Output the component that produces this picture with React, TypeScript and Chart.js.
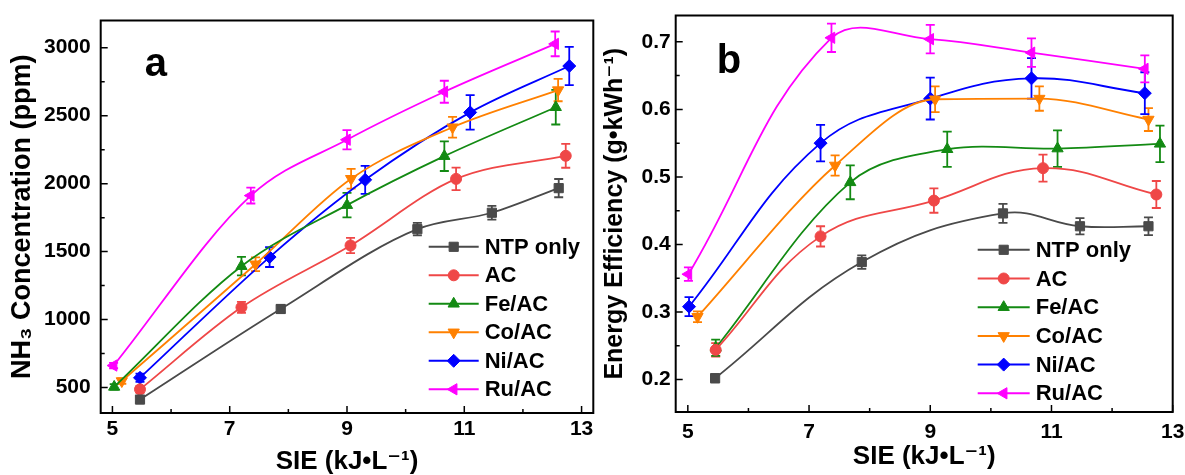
import React, { useEffect, useRef } from 'react';
import { Chart, registerables } from 'chart.js';
import { drawPoint } from 'chart.js/helpers';

Chart.register(...registerables);

// ---------------- data ----------------
const SERIES_NAMES = ['NTP only', 'AC', 'Fe/AC', 'Co/AC', 'Ni/AC', 'Ru/AC'];
const SERIES_COLORS = ['#4a4a4a', '#ef4747', '#138a13', '#ff8000', '#0000ff', '#ff00ff'];

const X_TICKS = [5, 7, 9, 11, 13];
const X_TICK_LABELS = ['5', '7', '9', '11', '13'];
const X_MINOR = [6, 8, 10, 12];

// Panel a: NH3 concentration (ppm)
const A_Y_TICKS = [500, 1000, 1500, 2000, 2500, 3000];
const A_Y_TICK_LABELS = ['500', '1000', '1500', '2000', '2500', '3000'];
const A_Y_MINOR = [750, 1250, 1750, 2250, 2750];

const a_ntp_x = [5.47, 7.87, 10.2, 11.47, 12.61];
const a_ntp_y = [412, 1078, 1665, 1786, 1967];
const a_ntp_err = [20, 30, 46, 51, 67];

const a_ac_x = [5.47, 7.2, 9.06, 10.86, 12.73];
const a_ac_y = [487, 1090, 1545, 2035, 2205];
const a_ac_err = [25, 40, 56, 83, 88];

const a_fe_x = [5.03, 7.2, 9.0, 10.66, 12.56];
const a_fe_y = [505, 1393, 1842, 2202, 2562];
const a_fe_err = [20, 68, 90, 109, 127];

const a_co_x = [5.16, 7.44, 9.07, 10.8, 12.6];
const a_co_y = [548, 1407, 2036, 2415, 2688];
const a_co_err = [20, 50, 72, 76, 82];

const a_ni_x = [5.47, 7.68, 9.31, 11.1, 12.79];
const a_ni_y = [572, 1460, 2028, 2524, 2865];
const a_ni_err = [30, 73, 103, 127, 141];

const a_ru_x = [5.02, 7.36, 9.0, 10.66, 12.55];
const a_ru_y = [662, 1912, 2323, 2676, 3028];
const a_ru_err = [20, 58, 71, 81, 91];

// Panel b: energy efficiency (g/kWh)
const B_Y_TICKS = [0.2, 0.3, 0.4, 0.5, 0.6, 0.7];
const B_Y_TICK_LABELS = ['0.2', '0.3', '0.4', '0.5', '0.6', '0.7'];
const B_Y_MINOR = [0.25, 0.35, 0.45, 0.55, 0.65];

const b_ntp_x = [5.45, 7.87, 10.2, 11.47, 12.6];
const b_ntp_y = [0.202, 0.374, 0.446, 0.427, 0.427];
const b_ntp_err = [0.006, 0.01, 0.014, 0.012, 0.013];

const b_ac_x = [5.46, 7.19, 9.06, 10.86, 12.73];
const b_ac_y = [0.244, 0.412, 0.465, 0.513, 0.474];
const b_ac_err = [0.01, 0.015, 0.018, 0.02, 0.02];

const b_fe_x = [5.46, 7.68, 9.28, 11.1, 12.79];
const b_fe_y = [0.247, 0.492, 0.541, 0.542, 0.549];
const b_fe_err = [0.012, 0.025, 0.026, 0.027, 0.027];

const b_co_x = [5.16, 7.43, 9.08, 10.8, 12.6];
const b_co_y = [0.293, 0.517, 0.615, 0.616, 0.585];
const b_co_err = [0.008, 0.015, 0.019, 0.018, 0.017];

const b_ni_x = [5.02, 7.19, 9.0, 10.67, 12.54];
const b_ni_y = [0.308, 0.55, 0.616, 0.646, 0.624];
const b_ni_err = [0.014, 0.027, 0.031, 0.03, 0.031];

const b_ru_x = [5.01, 7.37, 9.0, 10.67, 12.54];
const b_ru_y = [0.356, 0.706, 0.704, 0.684, 0.66];
const b_ru_err = [0.01, 0.021, 0.021, 0.021, 0.02];

// ---------------- styles ----------------
const FONT = '"Liberation Sans", Arial, "DejaVu Sans", sans-serif';
const MARKERS = [
  { style: 'rect', rot: 0, r: 6.5 },
  { style: 'circle', rot: 0, r: 5.5 },
  { style: 'triangle', rot: 0, r: 6.5 },
  { style: 'triangle', rot: 180, r: 6.5 },
  { style: 'rectRot', rot: 0, r: 6.5 },
  { style: 'triangle', rot: -90, r: 6.5 },
];

type Series = { x: number[]; y: number[]; err: number[]; mode: string; tension: number };

const A_SERIES: Series[] = [
  { x: a_ntp_x, y: a_ntp_y, err: a_ntp_err, mode: 'monotone', tension: 0.4 },
  { x: a_ac_x, y: a_ac_y, err: a_ac_err, mode: 'monotone', tension: 0.4 },
  { x: a_fe_x, y: a_fe_y, err: a_fe_err, mode: 'monotone', tension: 0.4 },
  { x: a_co_x, y: a_co_y, err: a_co_err, mode: 'monotone', tension: 0.4 },
  { x: a_ni_x, y: a_ni_y, err: a_ni_err, mode: 'monotone', tension: 0.4 },
  { x: a_ru_x, y: a_ru_y, err: a_ru_err, mode: 'monotone', tension: 0.4 },
];
const B_SERIES: Series[] = [
  { x: b_ntp_x, y: b_ntp_y, err: b_ntp_err, mode: 'default', tension: 0.4 },
  { x: b_ac_x, y: b_ac_y, err: b_ac_err, mode: 'default', tension: 0.4 },
  { x: b_fe_x, y: b_fe_y, err: b_fe_err, mode: 'default', tension: 0.35 },
  { x: b_co_x, y: b_co_y, err: b_co_err, mode: 'monotone', tension: 0.4 },
  { x: b_ni_x, y: b_ni_y, err: b_ni_err, mode: 'default', tension: 0.4 },
  { x: b_ru_x, y: b_ru_y, err: b_ru_err, mode: 'default', tension: 0.4 },
];

const PANEL_A = {
  letter: 'a',
  canvasLeft: 0,
  canvasW: 640,
  areaLeft: 100.7,
  areaRight: 593.3,
  areaTop: 15,
  areaBottom: 413,
  xMin: 4.8,
  xMax: 13.2,
  yMin: 313,
  yMax: 3200,
  yTicks: A_Y_TICKS,
  yLabels: A_Y_TICK_LABELS,
  yMinor: A_Y_MINOR,
  series: A_SERIES,
  yTitle: 'NH\u2083 Concentration (ppm)',
  yTitleSize: 27,
  yTitlePad: 9,
  xTitlePad: 0,
  yTickPad: 10,
  xTickPad: 6,
  legendLeft: 328,
  legendBottom: 23.7,
  legendGap: 28.5,
  legendLine: 50,
  letterDx: 44,
  letterDy: 55,
};

const PANEL_B = {
  letter: 'b',
  canvasLeft: 590,
  canvasW: 620,
  areaLeft: 675.7,
  areaRight: 1172.7,
  areaTop: 12.7,
  areaBottom: 412,
  xMin: 4.8,
  xMax: 13.0,
  yMin: 0.152,
  yMax: 0.739,
  yTicks: B_Y_TICKS,
  yLabels: B_Y_TICK_LABELS,
  yMinor: B_Y_MINOR,
  series: B_SERIES,
  yTitle: 'Energy Efficiency (g\u2022kWh\u207B\u00B9)',
  yTitleSize: 25,
  yTitlePad: 13,
  xTitlePad: 5,
  yTickPad: 5,
  xTickPad: 10,
  legendLeft: 302,
  legendBottom: 18.7,
  legendGap: 28.7,
  legendLine: 52,
  letterDx: 41,
  letterDy: 57,
};

type Panel = typeof PANEL_A;

function makePlugin(p: Panel) {
  return {
    id: 'decor_' + p.letter,
    beforeDatasetsDraw(chart: any) {
      const ctx = chart.ctx;
      const xs = chart.scales.x;
      const ys = chart.scales.y;
      ctx.save();
      p.series.forEach((s, si) => {
        ctx.strokeStyle = SERIES_COLORS[si];
        ctx.lineWidth = 1.8;
        s.x.forEach((xv, i) => {
          const px = xs.getPixelForValue(xv);
          const top = ys.getPixelForValue(s.y[i] + s.err[i]);
          const bot = ys.getPixelForValue(s.y[i] - s.err[i]);
          ctx.beginPath();
          ctx.moveTo(px, top);
          ctx.lineTo(px, bot);
          ctx.moveTo(px - 4.5, top);
          ctx.lineTo(px + 4.5, top);
          ctx.moveTo(px - 4.5, bot);
          ctx.lineTo(px + 4.5, bot);
          ctx.stroke();
        });
      });
      ctx.restore();
    },
    afterDraw(chart: any) {
      const ctx = chart.ctx;
      const ca = chart.chartArea;
      const xs = chart.scales.x;
      const ys = chart.scales.y;
      ctx.save();
      // ticks (inward)
      ctx.strokeStyle = '#000';
      ctx.lineWidth = 1.5;
      ctx.beginPath();
      X_TICKS.forEach((v) => {
        const px = xs.getPixelForValue(v);
        if (px < ca.left || px > ca.right) return;
        ctx.moveTo(px, ca.bottom);
        ctx.lineTo(px, ca.bottom - 7);
      });
      X_MINOR.forEach((v) => {
        const px = xs.getPixelForValue(v);
        ctx.moveTo(px, ca.bottom);
        ctx.lineTo(px, ca.bottom - 4);
      });
      p.yTicks.forEach((v) => {
        const py = ys.getPixelForValue(v);
        ctx.moveTo(ca.left, py);
        ctx.lineTo(ca.left + 7, py);
      });
      p.yMinor.forEach((v) => {
        const py = ys.getPixelForValue(v);
        ctx.moveTo(ca.left, py);
        ctx.lineTo(ca.left + 4, py);
      });
      ctx.stroke();
      // frame
      ctx.lineWidth = 2;
      ctx.strokeRect(ca.left, ca.top, ca.right - ca.left, ca.bottom - ca.top);
      // panel letter
      ctx.fillStyle = '#000';
      ctx.font = 'bold 40px ' + FONT;
      ctx.textBaseline = 'alphabetic';
      ctx.textAlign = 'left';
      ctx.fillText(p.letter, ca.left + p.letterDx, ca.top + p.letterDy);
      // legend
      const n = SERIES_NAMES.length;
      SERIES_NAMES.forEach((name, i) => {
        const y = ca.bottom - p.legendBottom - (n - 1 - i) * p.legendGap;
        const x0 = ca.left + p.legendLeft;
        ctx.strokeStyle = SERIES_COLORS[i];
        ctx.fillStyle = SERIES_COLORS[i];
        ctx.lineWidth = 2;
        ctx.beginPath();
        ctx.moveTo(x0, y);
        ctx.lineTo(x0 + p.legendLine, y);
        ctx.stroke();
        ctx.lineWidth = 1;
        drawPoint(ctx, { pointStyle: MARKERS[i].style, rotation: MARKERS[i].rot, radius: MARKERS[i].r, borderWidth: 1 } as any, x0 + p.legendLine / 2, y);
        ctx.fillStyle = '#000';
        ctx.font = 'bold 22px ' + FONT;
        ctx.textBaseline = 'middle';
        ctx.fillText(name, x0 + p.legendLine + 6, y + 1);
      });
      ctx.restore();
    },
  };
}

function PanelChart({ p }: { p: Panel }) {
  const ref = useRef<HTMLCanvasElement | null>(null);
  useEffect(() => {
    if (!ref.current) return;
    const datasets = p.series.map((s, i) => ({
      label: SERIES_NAMES[i],
      data: s.x.map((xv, j) => ({ x: xv, y: s.y[j] })),
      borderColor: SERIES_COLORS[i],
      backgroundColor: SERIES_COLORS[i],
      pointBackgroundColor: SERIES_COLORS[i],
      pointBorderColor: SERIES_COLORS[i],
      pointStyle: MARKERS[i].style,
      pointRotation: MARKERS[i].rot,
      pointRadius: MARKERS[i].r,
      pointBorderWidth: 1,
      borderWidth: 1.8,
      tension: s.tension,
      cubicInterpolationMode: s.mode,
      fill: false,
    }));
    const chart = new Chart(ref.current, {
      type: 'line',
      data: { datasets },
      plugins: [makePlugin(p)],
      options: {
        animation: false,
        responsive: false,
        devicePixelRatio: 1,
        events: [],
        layout: {
          padding: {
            left: 0,
            top: p.areaTop,
            right: p.canvasW - (p.areaRight - p.canvasLeft),
            bottom: 0,
          },
        },
        plugins: { legend: { display: false }, tooltip: { enabled: false }, title: { display: false } },
        scales: {
          x: {
            type: 'linear',
            min: p.xMin,
            max: p.xMax,
            afterBuildTicks: (scale: any) => {
              scale.ticks = X_TICKS.map((v) => ({ value: v }));
            },
            afterFit: (scale: any) => {
              scale.height = 475 - p.areaBottom;
            },
            grid: { display: false, drawTicks: false },
            border: { display: false },
            ticks: {
              color: '#000',
              padding: p.xTickPad,
              maxRotation: 0,
              autoSkip: false,
              font: { family: FONT, size: 21, weight: 'bold', lineHeight: 1 },
              callback: (v: any) => {
                const k = X_TICKS.indexOf(Number(v));
                return k >= 0 ? X_TICK_LABELS[k] : '';
              },
            },
            title: {
              display: true,
              text: 'SIE (kJ\u2022L\u207B\u00B9)',
              color: '#000',
              font: { family: FONT, size: 26, weight: 'bold', lineHeight: 1 },
              padding: { top: 0, bottom: p.xTitlePad },
            },
          },
          y: {
            type: 'linear',
            min: p.yMin,
            max: p.yMax,
            afterBuildTicks: (scale: any) => {
              scale.ticks = p.yTicks.map((v) => ({ value: v }));
            },
            afterFit: (scale: any) => {
              scale.width = p.areaLeft - p.canvasLeft;
            },
            grid: { display: false, drawTicks: false },
            border: { display: false },
            ticks: {
              color: '#000',
              padding: p.yTickPad,
              autoSkip: false,
              font: { family: FONT, size: 21, weight: 'bold', lineHeight: 1 },
              callback: (v: any) => {
                const k = p.yTicks.findIndex((t) => Math.abs(t - Number(v)) < 1e-9);
                return k >= 0 ? p.yLabels[k] : '';
              },
            },
            title: {
              display: true,
              text: p.yTitle,
              color: '#000',
              font: { family: FONT, size: p.yTitleSize, weight: 'bold', lineHeight: 1 },
              padding: { top: p.yTitlePad, bottom: 0 },
            },
          },
        },
      } as any,
    });
    return () => chart.destroy();
  }, [p]);
  return (
    <canvas
      ref={ref}
      width={p.canvasW}
      height={475}
      style={{ position: 'absolute', left: p.canvasLeft, top: 0, width: p.canvasW, height: 475 }}
    />
  );
}

export default function App() {
  return (
    <div
      style={{
        position: 'absolute',
        left: 0,
        top: 0,
        width: 1185,
        height: 475,
        overflow: 'hidden',
        background: '#fff',
      }}
    >
      <PanelChart p={PANEL_A} />
      <PanelChart p={PANEL_B} />
    </div>
  );
}
